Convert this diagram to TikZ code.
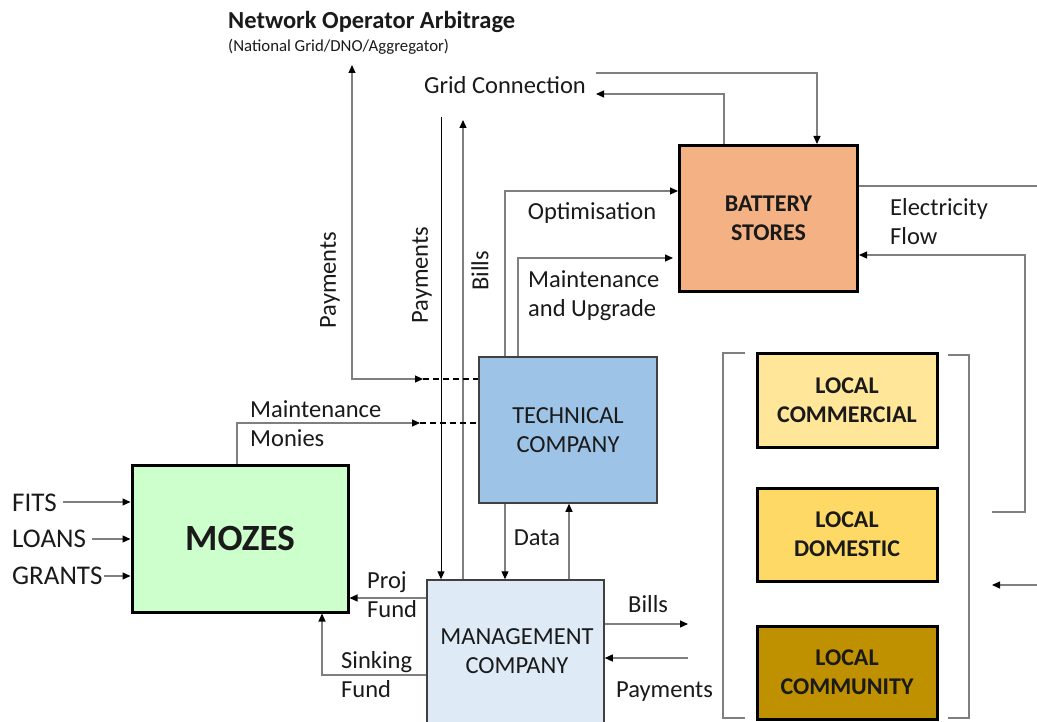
\documentclass[tikz,border=0pt]{standalone}
\usepackage{fontspec}
\setmainfont{Carlito}
\usetikzlibrary{arrows.meta,calc}
\definecolor{lngray}{HTML}{7F7F7F}
\definecolor{txt}{HTML}{1A1A1A}
\definecolor{batfill}{HTML}{F4B183}
\definecolor{mozfill}{HTML}{CCFFCC}
\definecolor{techfill}{HTML}{9DC3E6}
\definecolor{mgmtfill}{HTML}{DEEBF7}
\definecolor{comfill}{HTML}{FFE699}
\definecolor{domfill}{HTML}{FFD966}
\definecolor{cmtyfill}{HTML}{BF9000}
\definecolor{boxedge}{HTML}{404040}
\tikzset{
  lbl/.style={text=txt,inner sep=0pt,font=\fontsize{24.5}{29}\selectfont,align=left},
  thickbox/.style={draw=black,line width=3pt,inner sep=0pt,text=txt,align=center,font=\fontsize{24}{29}\selectfont\bfseries},
  thinbox/.style={draw=boxedge,line width=1.5pt,inner sep=0pt,text=txt,align=center,font=\fontsize{24.5}{29}\selectfont},
  ln/.style={draw=lngray,line width=1.2pt},
  blk/.style={draw=black,line width=1pt},
  arr/.style={-{Triangle[length=8pt,width=7pt,color=black]}},
  barr/.style={{Triangle[length=8pt,width=7pt,color=black]}-{Triangle[length=8pt,width=7pt,color=black]}},
  dsh/.style={draw=black,line width=1.2pt,dash pattern=on 6pt off 4pt},
  brk/.style={draw=lngray,line width=1.2pt}
}
\begin{document}
\begin{tikzpicture}[x=1pt,y=-1pt]
\useasboundingbox[fill=white] (0,0) rectangle (1037,722);

% boxes
\node[thickbox,fill=batfill,minimum width=178pt,minimum height=146pt] (bat) at (768.5,218.5) {BATTERY\\STORES};
\node[thickbox,fill=mozfill,minimum width=216pt,minimum height=147pt,font=\fontsize{37}{40}\selectfont\bfseries] (moz) at (240,538.5) {MOZES};
\node[thinbox,fill=techfill,minimum width=178pt,minimum height=146pt] (tech) at (568,430) {TECHNICAL\\COMPANY};
\node[thinbox,fill=mgmtfill,minimum width=177pt,minimum height=150pt] (mgmt) at (515.5,655) {};
\node[text=txt,align=center,inner sep=0pt,font=\fontsize{24.5}{29}\selectfont] (mgmtlbl) at (517,651) {MANAGEMENT\\COMPANY};
\node[thickbox,fill=comfill,minimum width=180pt,minimum height=94pt] (com) at (847,400) {LOCAL\\COMMERCIAL};
\node[thickbox,fill=domfill,minimum width=180pt,minimum height=93pt] (dom) at (847,534.5) {LOCAL\\DOMESTIC};
\node[thickbox,fill=cmtyfill,minimum width=180pt,minimum height=93pt] (cmty) at (847,672.5) {LOCAL\\COMMUNITY};

% titles and labels
\node[lbl,anchor=base west,font=\fontsize{24.5}{28}\selectfont\bfseries] (title) at (228,29) {Network Operator Arbitrage};
\node[lbl,anchor=base west,font=\fontsize{16.8}{19}\selectfont] (sub) at (228,52) {(National Grid/DNO/Aggregator)};
\node[lbl] (grid) at (505,85) {Grid Connection};
\node[lbl] (opt) at (592,213) {Optimisation};
\node[lbl,anchor=west] (mu) at (528,296) {Maintenance\\and Upgrade};
\node[lbl,anchor=west] (ef) at (890,222) {Electricity\\Flow};
\node[lbl,anchor=west] (mm) at (250,424) {Maintenance\\Monies};
\node[lbl,anchor=west] (pf) at (367,595) {Proj\\Fund};
\node[lbl,anchor=west] (sf) at (341,675) {Sinking\\Fund};
\node[lbl] (data) at (537,538) {Data};
\node[lbl,anchor=west] (bills) at (628,604) {Bills};
\node[lbl,anchor=west] (pay) at (616,692) {Payments};
\node[lbl,rotate=90] (payL) at (330,280) {Payments};
\node[lbl,rotate=90] (payM) at (422,275) {Payments};
\node[lbl,rotate=90] (billsV) at (480,271) {Bills};
\node[lbl,anchor=west,font=\fontsize{27}{30}\selectfont] (fits) at (12,503) {FITS};
\node[lbl,anchor=west,font=\fontsize{27}{30}\selectfont] (loans) at (12,539) {LOANS};
\node[lbl,anchor=west,font=\fontsize{27}{30}\selectfont] (grants) at (12,576) {GRANTS};

% free ends
\coordinate (gcR1) at (596,73);
\coordinate (gcR2) at (596,94);
\coordinate (efR) at (1037,186);
\coordinate (efIn) at (992,512);
\coordinate (rIn) at (1037,585);
\coordinate (rInTip) at (992,585);
\coordinate (mbR) at (688,624);
\coordinate (mpR) at (688,658);
\coordinate (payTop) at (352,65);
\coordinate (vTop1) at (441,117);
\coordinate (vTop2) at (463,120);

% grid connection
\draw[ln,arr] (gcR1) -| (817,0 |- bat.north);
\draw[ln,arr] (724,0 |- bat.north) |- (gcR2);

% battery connections
\draw[ln,arr] (505,0 |- tech.north) |- (bat.west |- 0,191);
\draw[ln,arr] (518,0 |- tech.north) |- (673,258);
\draw[ln] (bat.east |- 0,186) -- (efR);
\draw[ln,arr] (efIn) -| (1025,255) -- (bat.east |- 0,255);
\draw[ln,arr] (rIn) -- (rInTip);

% vertical payments / bills
\draw[blk,arr] (vTop1) -- (441,0 |- mgmt.north);
\draw[ln,arr] (463,0 |- mgmt.north) -- (vTop2);

% operator payments
\draw[ln,barr] (payTop) -- (352,379) -- (423,379);
\draw[dsh] (423,379) -- (tech.west |- 0,379);

% maintenance monies
\draw[ln,arr] (237,0 |- moz.north) |- (420,423);
\draw[dsh] (420,423) -- (tech.west |- 0,423);

% data
\draw[ln,arr] (505,0 |- tech.south) -- (505,0 |- mgmt.north);
\draw[ln,arr] (569,0 |- mgmt.north) -- (569,0 |- tech.south);

% funds
\draw[ln,arr] (mgmt.west |- 0,598) -- (moz.east |- 0,598);
\draw[ln,arr] (mgmt.west |- 0,675) -| (322,0 |- moz.south);

% bills and payments to locals
\draw[ln,arr] (mgmt.east |- 0,624) -- (mbR);
\draw[ln,arr] (mpR) -- (mgmt.east |- 0,658);

% inputs to MOZES
\draw[ln,arr] (63,502) -- (moz.west |- 0,502);
\draw[ln,arr] (92,539) -- (moz.west |- 0,539);
\draw[ln,arr] (104,576) -- (moz.west |- 0,576);

% brackets
\draw[brk] (745,353) -- (723,353) -- (723,718) -- (745,718);
\draw[brk] (948,355) -- (969,355) -- (969,718) -- (948,718);
\end{tikzpicture}
\end{document}
